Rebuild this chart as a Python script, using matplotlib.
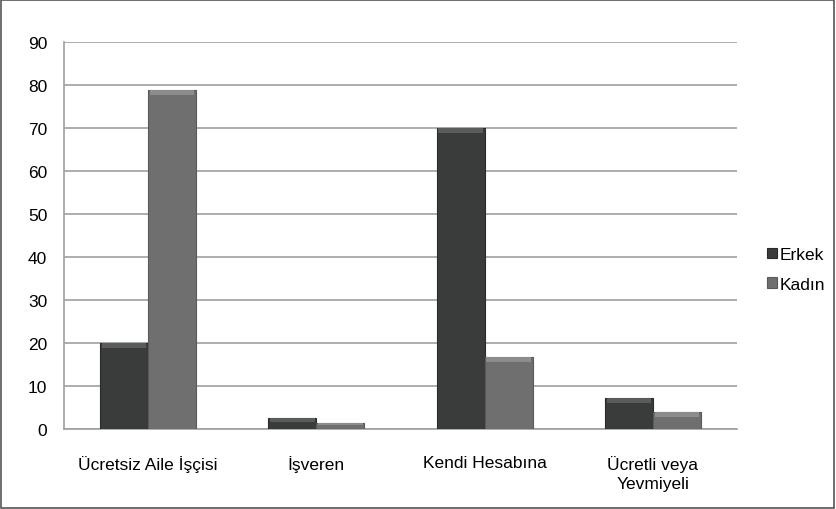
import matplotlib
matplotlib.use('Agg')
import matplotlib.pyplot as plt
from matplotlib.patches import Rectangle
import numpy as np

categories = ['Ücretsiz Aile İşçisi', 'İşveren', 'Kendi Hesabına', 'Ücretli veya\nYevmiyeli']
erkek = [20.0, 2.5, 70.0, 7.3]
kadin = [78.8, 1.4, 16.7, 4.0]
yticks = list(range(0, 100, 10))

plt.rcParams['font.family'] = ['Liberation Sans', 'DejaVu Sans']

fig = plt.figure(figsize=(8.36, 5.10), dpi=100)
ax = fig.add_axes([0.0766, 0.157, 0.805, 0.759])

x = np.arange(len(categories))
w = 0.285
b1 = ax.bar(x - w / 2, erkek, w, color='#3a3b3b', edgecolor='#2a2a2a', linewidth=0.8, label='Erkek', zorder=3)
b2 = ax.bar(x + w / 2, kadin, w, color='#6f6f6f', edgecolor='#5a5a5a', linewidth=0.8, label='Kadın', zorder=3)

# light bevel strip on top of each bar
for bars, hl in ((b1, '#5a5b5b'), (b2, '#8c8c8c')):
    for r in bars:
        h = min(1.2, r.get_height() * 0.4)
        ax.add_patch(Rectangle((r.get_x() + 0.01, r.get_height() - h), r.get_width() - 0.02, h,
                               color=hl, zorder=4, linewidth=0))

ax.set_xlim(-0.5, 3.5)
ax.set_ylim(0, 90)
ax.set_yticks(yticks)
ax.set_xticks(x)
ax.set_xticklabels(categories, fontsize=12.5, linespacing=1.3)
ax.tick_params(axis='y', labelsize=12.5, length=0, pad=12)
ax.tick_params(axis='x', length=0, pad=19)
ax.grid(True, axis='y', color='#a0a0a0', linewidth=1.2, zorder=0)
for s in ('top', 'right'):
    ax.spines[s].set_visible(False)
for s in ('left', 'bottom'):
    ax.spines[s].set_color('#a0a0a0')
    ax.spines[s].set_linewidth(1.2)

fig.legend(handles=[b1, b2], loc='center left', bbox_to_anchor=(0.918, 0.47),
           frameon=False, fontsize=12.5, handlelength=0.55, handleheight=0.55,
           handletextpad=0.15, labelspacing=0.85, borderpad=0, borderaxespad=0)

fig.add_artist(Rectangle((0.001, 0.001), 0.997, 0.997, transform=fig.transFigure,
                         fill=False, edgecolor='#555555', linewidth=1.2))

fig.savefig('out.png', dpi=100)
